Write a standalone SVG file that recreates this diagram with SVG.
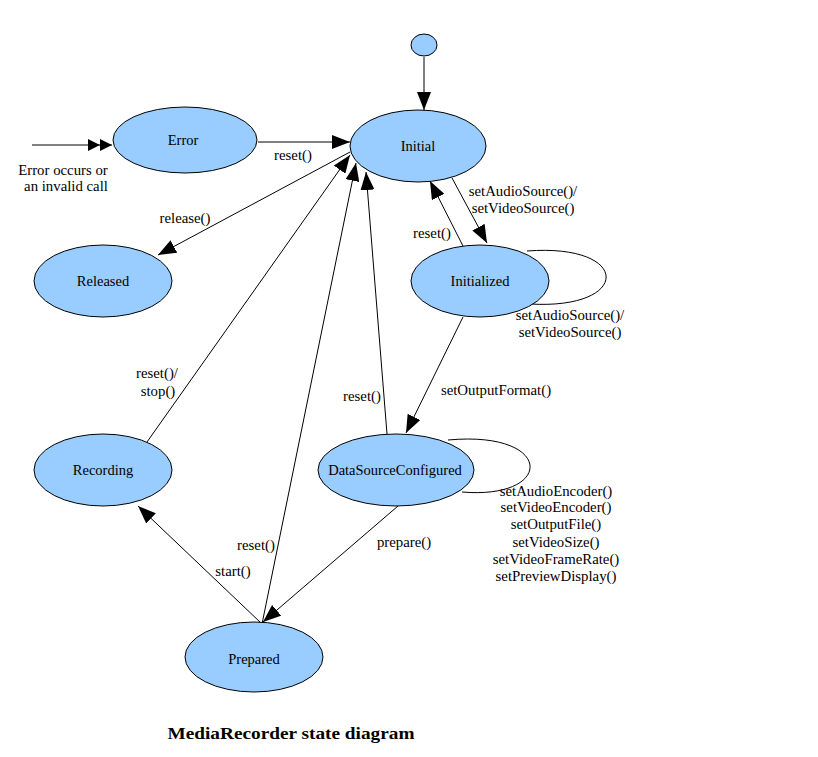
<svg xmlns="http://www.w3.org/2000/svg" width="818" height="757" viewBox="0 0 818 757">
<style>
.node{fill:#99ccff;stroke:#000;stroke-width:1}
.nt{font-family:"Liberation Serif","Times New Roman",serif;font-size:14.5px;fill:#000;text-anchor:middle}
.lt{font-family:"Liberation Serif","Times New Roman",serif;font-size:14.8px;fill:#000;text-anchor:middle}
.e{fill:none;stroke:#000;stroke-width:1}
.a{marker-end:url(#ah)}
.title{font-family:"Liberation Serif","Times New Roman",serif;font-size:17px;font-weight:bold;fill:#000;text-anchor:middle}
</style>
<defs>
<marker id="ah" markerUnits="userSpaceOnUse" markerWidth="18" markerHeight="14" refX="18" refY="7" orient="auto">
<path d="M0,0 L18,7 L0,14 z" fill="#000"/>
</marker>
<marker id="dbl" markerUnits="userSpaceOnUse" markerWidth="24" markerHeight="12" refX="24" refY="6" orient="auto">
<path d="M0,0 L12,6 L0,12 z M12,0 L24,6 L12,12 z" fill="#000"/>
</marker>
</defs>
<rect width="818" height="757" fill="#fff"/>
<g id="connectors">
<line class="e a" x1="424" y1="57" x2="424" y2="110"/>
<line class="e" x1="32" y1="145" x2="112" y2="145" marker-end="url(#dbl)"/>
<line class="e a" x1="258" y1="142" x2="350" y2="142"/>
<line class="e a" x1="350" y1="152" x2="158" y2="255"/>
<line class="e a" x1="452" y1="178" x2="487" y2="243"/>
<line class="e a" x1="463" y1="246" x2="430" y2="181"/>
<path class="e" d="M527,251 C632,243 632,310 530,304"/>
<line class="e a" x1="463" y1="317" x2="406" y2="433"/>
<line class="e a" x1="387" y1="434" x2="366" y2="172"/>
<path class="e" d="M448,440 C555,430 555,500 462,492"/>
<line class="e a" x1="398" y1="506" x2="263" y2="622"/>
<line class="e a" x1="147" y1="442" x2="350" y2="155"/>
<line class="e a" x1="262" y1="624" x2="356" y2="163"/>
<line class="e a" x1="261" y1="623" x2="138" y2="506"/>
</g>
<g id="labels">
<text class="lt" x="63" y="175">Error occurs or</text>
<text class="lt" x="66" y="191">an invalid call</text>
<text class="lt" x="293" y="160">reset()</text>
<text class="lt" x="185" y="223">release()</text>
<text class="lt" x="523" y="196">setAudioSource()/</text>
<text class="lt" x="523" y="213">setVideoSource()</text>
<text class="lt" x="432" y="238">reset()</text>
<text class="lt" x="570" y="320">setAudioSource()/</text>
<text class="lt" x="570" y="337">setVideoSource()</text>
<text class="lt" x="496" y="395">setOutputFormat()</text>
<text class="lt" x="362" y="401">reset()</text>
<text class="lt" x="157" y="378">reset()/</text>
<text class="lt" x="158" y="396">stop()</text>
<text class="lt" x="556" y="496">setAudioEncoder()</text>
<text class="lt" x="556" y="512">setVideoEncoder()</text>
<text class="lt" x="556" y="529">setOutputFile()</text>
<text class="lt" x="556" y="547">setVideoSize()</text>
<text class="lt" x="556" y="564">setVideoFrameRate()</text>
<text class="lt" x="556" y="581">setPreviewDisplay()</text>
<text class="lt" x="404" y="547">prepare()</text>
<text class="lt" x="256" y="550">reset()</text>
<text class="lt" x="233" y="576">start()</text>
</g>
<g id="start"><ellipse class="node" cx="424" cy="45" rx="13" ry="11"/></g>
<g id="error"><ellipse class="node" cx="185" cy="140" rx="72" ry="33"/><text class="nt" x="183" y="145">Error</text></g>
<g id="initial"><ellipse class="node" cx="418" cy="146" rx="68" ry="36"/><text class="nt" x="418" y="151">Initial</text></g>
<g id="released"><ellipse class="node" cx="103" cy="281" rx="69" ry="36"/><text class="nt" x="103" y="286">Released</text></g>
<g id="initialized"><ellipse class="node" cx="480" cy="281" rx="69" ry="36"/><text class="nt" x="480" y="286">Initialized</text></g>
<g id="recording"><ellipse class="node" cx="103" cy="470" rx="69" ry="36"/><text class="nt" x="103" y="475">Recording</text></g>
<g id="datasourceconfigured"><ellipse class="node" cx="396" cy="470" rx="78" ry="36"/><text class="nt" x="395" y="475">DataSourceConfigured</text></g>
<g id="prepared"><ellipse class="node" cx="254" cy="657" rx="69" ry="35"/><text class="nt" x="254" y="664">Prepared</text></g>
<text class="title" x="291" y="739" textLength="247" lengthAdjust="spacingAndGlyphs">MediaRecorder state diagram</text>
</svg>
